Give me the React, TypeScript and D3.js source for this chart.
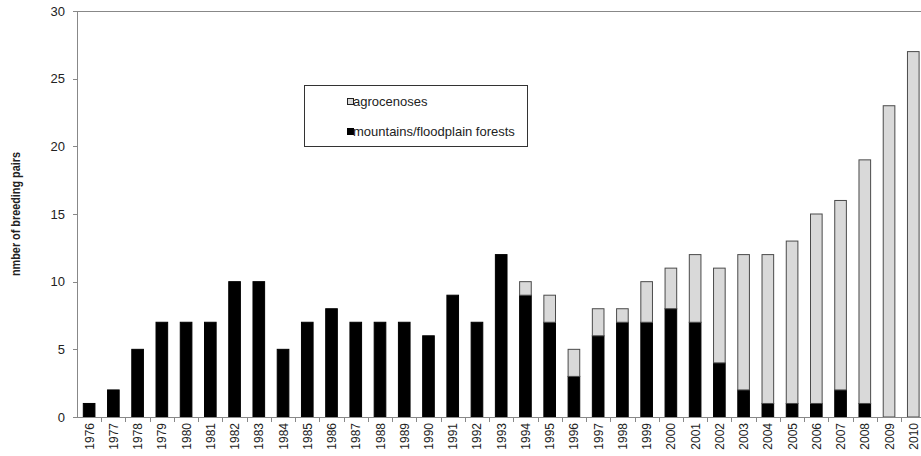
import React from "react";
import * as d3 from "d3";

const years = [
  "1976","1977","1978","1979","1980","1981","1982","1983","1984","1985",
  "1986","1987","1988","1989","1990","1991","1992","1993","1994","1995",
  "1996","1997","1998","1999","2000","2001","2002","2003","2004","2005",
  "2006","2007","2008","2009","2010",
];
const mountains = [1,2,5,7,7,7,10,10,5,7,8,7,7,7,6,9,7,12,9,7,3,6,7,7,8,7,4,2,1,1,1,2,1,0,0];
const agrocenoses = [0,0,0,0,0,0,0,0,0,0,0,0,0,0,0,0,0,0,1,2,2,2,1,3,3,5,7,10,11,12,14,14,18,23,27];
const yTicks = [0,5,10,15,20,25,30];
const seriesNames = ["agrocenoses", "mountains/floodplain forests"];

export default function App() {
  const W = 921, H = 456;
  const left = 77, top = 11, bottom = 417;
  const bandStep = 24.24;
  const right = left + bandStep * years.length;
  const x = d3.scaleBand<string>().domain(years).range([left, right]).paddingInner(0.52).paddingOuter(0.26);
  const y = d3.scaleLinear().domain([0, 30]).range([bottom, top]);
  const font = "Arial, 'Liberation Sans', sans-serif";
  const bw = x.bandwidth();
  return (
    <svg width={W} height={H} style={{ position: "absolute", left: 0, top: 0, background: "#fff" }} fontFamily={font}>
      <rect x={0} y={0} width={W} height={H} fill="#fff" />
      {/* top border */}
      <line x1={left} x2={W} y1={top + 0.5} y2={top + 0.5} stroke="#888" />
      {/* bars */}
      {years.map((yr, i) => {
        const m = mountains[i];
        const a = agrocenoses[i];
        const xp = x(yr)!;
        return (
          <g key={yr}>
            {m > 0 && (
              <rect x={xp} y={y(m)} width={bw} height={y(0) - y(m)} fill="#000" stroke="#000" strokeWidth={1} />
            )}
            {a > 0 && (
              <rect x={xp} y={y(m + a)} width={bw} height={y(m) - y(m + a)} fill="#d9d9d9" stroke="#4a4a4a" strokeWidth={1} />
            )}
          </g>
        );
      })}
      {/* y axis */}
      <line x1={left + 0.5} x2={left + 0.5} y1={top} y2={bottom} stroke="#888" />
      {yTicks.map((t) => (
        <g key={t}>
          <line x1={left - 4} x2={left} y1={Math.round(y(t)) + 0.5} y2={Math.round(y(t)) + 0.5} stroke="#888" />
          <text x={left - 12} y={y(t) + 4.5} textAnchor="end" fontSize={13} fill="#222">{t}</text>
        </g>
      ))}
      {/* x axis */}
      <line x1={left} x2={W} y1={bottom + 0.5} y2={bottom + 0.5} stroke="#888" />
      {years.map((yr, i) => {
        const bx = left + bandStep * (i + 1);
        return <line key={"t" + yr} x1={Math.round(bx) + 0.5} x2={Math.round(bx) + 0.5} y1={bottom} y2={bottom + 5} stroke="#888" />;
      })}
      {years.map((yr) => {
        const cx = x(yr)! + bw / 2;
        return (
          <text key={"l" + yr} transform={`translate(${cx + 4.5},${bottom + 6}) rotate(-90)`} textAnchor="end" fontSize={12} fill="#222">{yr}</text>
        );
      })}
      {/* y label */}
      <text transform={`translate(20,${(top + bottom) / 2}) rotate(-90)`} textAnchor="middle" fontSize={12.5} fontWeight="bold" fill="#222" textLength={124} lengthAdjust="spacingAndGlyphs">nmber of breeding pairs</text>
      {/* legend */}
      <rect x={304.5} y={85.5} width={223} height={61} fill="#fff" stroke="#333" />
      <rect x={347.5} y={98.5} width={6} height={6} fill="#d9d9d9" stroke="#222" />
      <text x={353} y={106} fontSize={13} fill="#222">{seriesNames[0]}</text>
      <rect x={347.5} y={128.5} width={6} height={6} fill="#000" stroke="#000" />
      <text x={353} y={136} fontSize={13} fill="#222">{seriesNames[1]}</text>
    </svg>
  );
}
